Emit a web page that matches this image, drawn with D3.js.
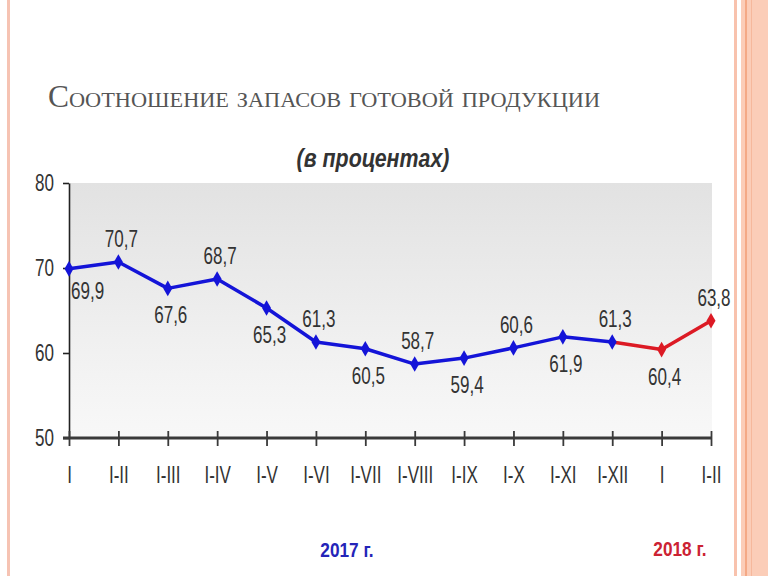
<!DOCTYPE html>
<html><head><meta charset="utf-8">
<script src="https://cdn.jsdelivr.net/npm/d3@7"></script>
<style>html,body{margin:0;padding:0;background:#fff;}svg{display:block;}</style>
</head><body>
<script>
const categories = ["I","I-II","I-III","I-IV","I-V","I-VI","I-VII","I-VIII","I-IX","I-X","I-XI","I-XII","I","I-II"];
const values2017 = [69.9,70.7,67.6,68.7,65.3,61.3,60.5,58.7,59.4,60.6,61.9,61.3];
const values2018 = [60.4,63.8];
const yTicks = [50,60,70,80];
const titleText = "Соотношение запасов готовой продукции";
const subtitleText = "(в процентах)";
const yearLabels = ["2017 г.","2018 г."];

const W=768,H=576;
const svg=d3.select("body").append("svg").attr("width",W).attr("height",H);

// decorative borders
svg.append("rect").attr("x",7).attr("y",0).attr("width",3).attr("height",H).attr("fill","#f6c3b3");
svg.append("rect").attr("x",734).attr("y",0).attr("width",3).attr("height",H).attr("fill","#f8c2ad");
svg.append("rect").attr("x",741).attr("y",0).attr("width",27).attr("height",H).attr("fill","#fbcdb8");
svg.append("rect").attr("x",745).attr("y",0).attr("width",2).attr("height",H).attr("fill","#f4a986");
svg.append("rect").attr("x",751).attr("y",0).attr("width",1).attr("height",H).attr("fill","#f6b89c");

function condense(sel,k){
  sel.each(function(){const w=this.getComputedTextLength();d3.select(this).attr("textLength",w*k).attr("lengthAdjust","spacingAndGlyphs");});
}

// title
svg.append("text").attr("x",48).attr("y",107).text(titleText)
  .attr("font-family","'Liberation Serif','DejaVu Serif',serif").attr("font-size",31)
  .style("font-variant","small-caps").attr("fill","#555")
  .attr("textLength",552).attr("lengthAdjust","spacingAndGlyphs");

svg.append("text").attr("x",373).attr("y",167).attr("text-anchor","middle").text(subtitleText)
  .attr("font-family","'Liberation Sans',Arial,sans-serif").attr("font-size",25)
  .attr("font-style","italic").attr("font-weight","bold").attr("fill","#333")
  .attr("textLength",153).attr("lengthAdjust","spacingAndGlyphs");

const x=d3.scalePoint().domain(d3.range(categories.length)).range([69,711]).padding(0);
const y=d3.scaleLinear().domain([50,80]).range([438,183]);

// background
const defs=svg.append("defs");
const g=defs.append("linearGradient").attr("id","bg").attr("x1",0).attr("y1",0).attr("x2",0).attr("y2",1);
g.append("stop").attr("offset","0").attr("stop-color","#e2e2e2");
g.append("stop").attr("offset","0.75").attr("stop-color","#f3f3f3");
g.append("stop").attr("offset","1").attr("stop-color","#f8f8f8");
svg.append("rect").attr("x",x(0)).attr("y",y(80)).attr("width",x(categories.length-1)-x(0)+1).attr("height",y(50)-y(80)).attr("fill","url(#bg)");

const font="'Liberation Sans',Arial,sans-serif";
const fs=23, k=0.74;

// y axis
const ya=svg.append("g").attr("transform",`translate(${x(0)},0)`)
  .call(d3.axisLeft(y).tickValues(yTicks).tickSize(6).tickPadding(9).tickSizeOuter(0));
ya.select(".domain").attr("stroke","#222").attr("stroke-width",1.6);
ya.selectAll(".tick line").attr("stroke","#222").attr("stroke-width",1.6);
ya.selectAll(".tick text").attr("font-family",font).attr("font-size",fs).attr("fill","#333").call(condense,k);

// x axis
const xa=svg.append("g").attr("transform",`translate(0,${y(50)})`)
  .call(d3.axisBottom(x).tickFormat(i=>categories[i]).tickSize(8).tickPadding(21).tickSizeOuter(0));
xa.select(".domain").attr("stroke","#3a3a3a").attr("stroke-width",3).attr("d",`M${x(0)-6},0H${x(categories.length-1)}`);
xa.selectAll(".tick line").attr("stroke","#3a3a3a").attr("stroke-width",1.8).attr("y1",-7).attr("y2",8);
xa.selectAll(".tick text").attr("font-family",font).attr("font-size",fs).attr("fill","#333").call(condense,k);

// series
const pts2017=values2017.map((v,i)=>({i,v}));
const pts2018=values2018.map((v,j)=>({i:values2017.length+j,v}));
const redPts=[pts2017[pts2017.length-1]].concat(pts2018);
const line=d3.line().x(d=>x(d.i)).y(d=>y(d.v));
const blue="#1414d8", red="#dc1a24";
svg.append("path").datum(redPts).attr("d",line).attr("fill","none").attr("stroke",red).attr("stroke-width",3.5).attr("stroke-linejoin","round");
svg.append("path").datum(pts2017).attr("d",line).attr("fill","none").attr("stroke",blue).attr("stroke-width",3.5).attr("stroke-linejoin","round");

const sym=d3.symbol().type(d3.symbolDiamond).size(70);
svg.selectAll(".m17").data(pts2017).join("path").attr("d",sym).attr("transform",d=>`translate(${x(d.i)},${y(d.v)})`).attr("fill",blue);
svg.selectAll(".m18").data(pts2018).join("path").attr("d",sym).attr("transform",d=>`translate(${x(d.i)},${y(d.v)})`).attr("fill",red);

// value labels
const allPts=pts2017.concat(pts2018);
svg.selectAll(".lbl").data(allPts).join("text")
  .attr("x",d=>d.i===0?x(d.i)+2:x(d.i)+3)
  .attr("y",d=>d.i===0?y(d.v)+30:(d.i%2===1?y(d.v)-15:y(d.v)+35))
  .attr("text-anchor",d=>d.i===0?"start":"middle")
  .attr("font-family",font).attr("font-size",fs).attr("fill","#333")
  .text(d=>d3.format(".1f")(d.v).replace(".",","))
  .call(condense,k);

// year labels
svg.append("text").attr("x",347).attr("y",557).attr("text-anchor","middle").text(yearLabels[0])
  .attr("font-family",font).attr("font-size",21).attr("font-weight","bold").attr("fill","#2424b8").call(condense,0.82);
svg.append("text").attr("x",680).attr("y",556).attr("text-anchor","middle").text(yearLabels[1])
  .attr("font-family",font).attr("font-size",21).attr("font-weight","bold").attr("fill","#cc2233").call(condense,0.82);
</script>
</body></html>
